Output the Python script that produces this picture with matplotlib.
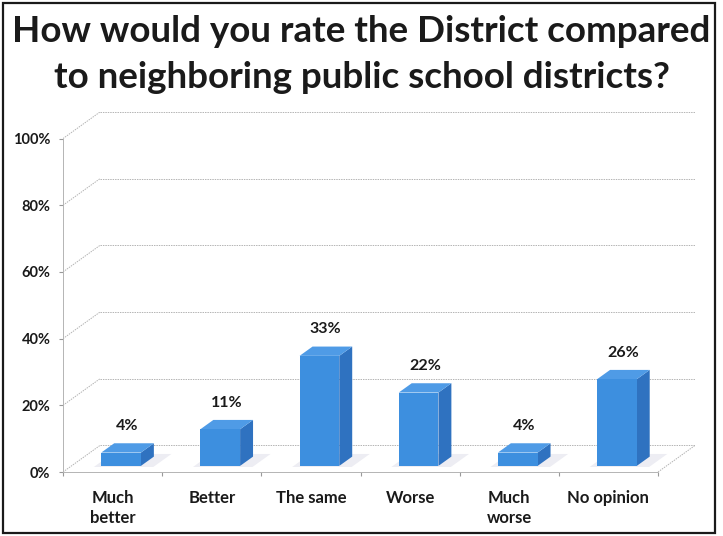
import matplotlib.pyplot as plt
from matplotlib.patches import Polygon, Rectangle

categories = ["Much\nbetter", "Better", "The same", "Worse", "Much\nworse", "No opinion"]
values = [4, 11, 33, 22, 4, 26]
y_ticks = [0, 20, 40, 60, 80, 100]
title_lines = ["How would you rate the District compared",
               "to neighboring public school districts?"]

plt.rcParams['font.family'] = ['Lato', 'DejaVu Sans']

# oblique projection: depth d in [0, 1] shifts a point right and up
DX = 0.373
DY = 7.96


def proj(x, y, d):
    return (x + DX * d, y + DY * d)


fig = plt.figure(figsize=(7.23, 5.36), dpi=100)
ax = fig.add_axes([63 / 723, 64 / 536, 632 / 723, 360 / 536])
n = len(categories)
ax.set_xlim(0, n + DX)
ax.set_ylim(0, 100 + DY)

grid_kw = dict(color='#b4b4b4', lw=0.7, ls=(0, (1.5, 1.0)), zorder=1)
for v in y_ticks:
    # back wall line and left wall diagonal
    xs, ys = zip(proj(0, v, 1), proj(n, v, 1))
    ax.plot(xs, ys, **grid_kw)
    xs, ys = zip(proj(0, v, 0), proj(0, v, 1))
    ax.plot(xs, ys, **grid_kw)
# right edge of the floor
xs, ys = zip(proj(n, 0, 0), proj(n, 0, 1))
ax.plot(xs, ys, **grid_kw)

for s in ['top', 'right']:
    ax.spines[s].set_visible(False)
ax.spines['left'].set_bounds(0, 100)
ax.spines['bottom'].set_bounds(0, n)
for s in ['left', 'bottom']:
    ax.spines[s].set_color('#b4b4b4')
    ax.spines[s].set_linewidth(0.7)
    ax.spines[s].set_linestyle((0, (1.5, 1.0)))

ax.set_yticks(y_ticks)
ax.set_yticklabels([f"{v}%" for v in y_ticks], fontsize=10.5, fontweight='bold',
                   color='#1a1a1a')
ax.tick_params(axis='y', length=3, color='#999999', pad=6)
ax.set_xticks(range(n + 1))
ax.set_xticklabels([])
ax.tick_params(axis='x', which='major', length=3, color='#999999')
ax.set_xticks([i + 0.5 for i in range(n)], minor=True)
ax.set_xticklabels(categories, minor=True, fontsize=12, fontweight='bold',
                   linespacing=1.3, color='#1a1a1a')
ax.tick_params(axis='x', which='minor', length=0, pad=13)

front = '#3d8fdf'
side = '#2f72c0'
top = '#4f9be6'
half_w = 0.2
d0, d1 = 0.23, 0.58
for i, v in enumerate(values):
    x0 = i + 0.5 - half_w
    x1 = i + 0.5 + half_w
    shadow = [proj(x0 - 0.06, 0, d0 - 0.04), proj(x1 + 0.14, 0, d0 - 0.04),
              proj(x1 + 0.14, 0, d1 + 0.1), proj(x0 - 0.06, 0, d1 + 0.1)]
    ax.add_patch(Polygon(shadow, closed=True, fc='#ededf3', ec='none', zorder=2))
    right_face = [proj(x1, 0, d0), proj(x1, 0, d1), proj(x1, v, d1), proj(x1, v, d0)]
    top_face = [proj(x0, v, d0), proj(x1, v, d0), proj(x1, v, d1), proj(x0, v, d1)]
    front_face = [proj(x0, 0, d0), proj(x1, 0, d0), proj(x1, v, d0), proj(x0, v, d0)]
    ax.add_patch(Polygon(right_face, closed=True, fc=side, ec='none', zorder=3))
    ax.add_patch(Polygon(top_face, closed=True, fc=top, ec='none', zorder=3))
    ax.add_patch(Polygon(front_face, closed=True, fc=front, ec='none', zorder=4))
    lx = proj(i + 0.5, v, 0.4)[0]
    ly = v + DY * d1 + 4
    ax.text(lx, ly, f"{v}%", ha='center', va='baseline', fontsize=11.5,
            fontweight='bold', color='#1a1a1a', zorder=5)

fig.text(0.5, 1 - 32 / 536, title_lines[0], ha='center', va='center',
         fontsize=26.5, fontweight='bold', color='#1a1a1a')
fig.text(0.5, 1 - 77 / 536, title_lines[1], ha='center', va='center',
         fontsize=26.5, fontweight='bold', color='#1a1a1a')

# outer frame
fig.patches.append(Rectangle((3 / 723, 3 / 536), 712 / 723, 530 / 536,
                             transform=fig.transFigure, fill=False,
                             ec='#1a1a1a', lw=1.6))

fig.savefig('out.png', dpi=100)
